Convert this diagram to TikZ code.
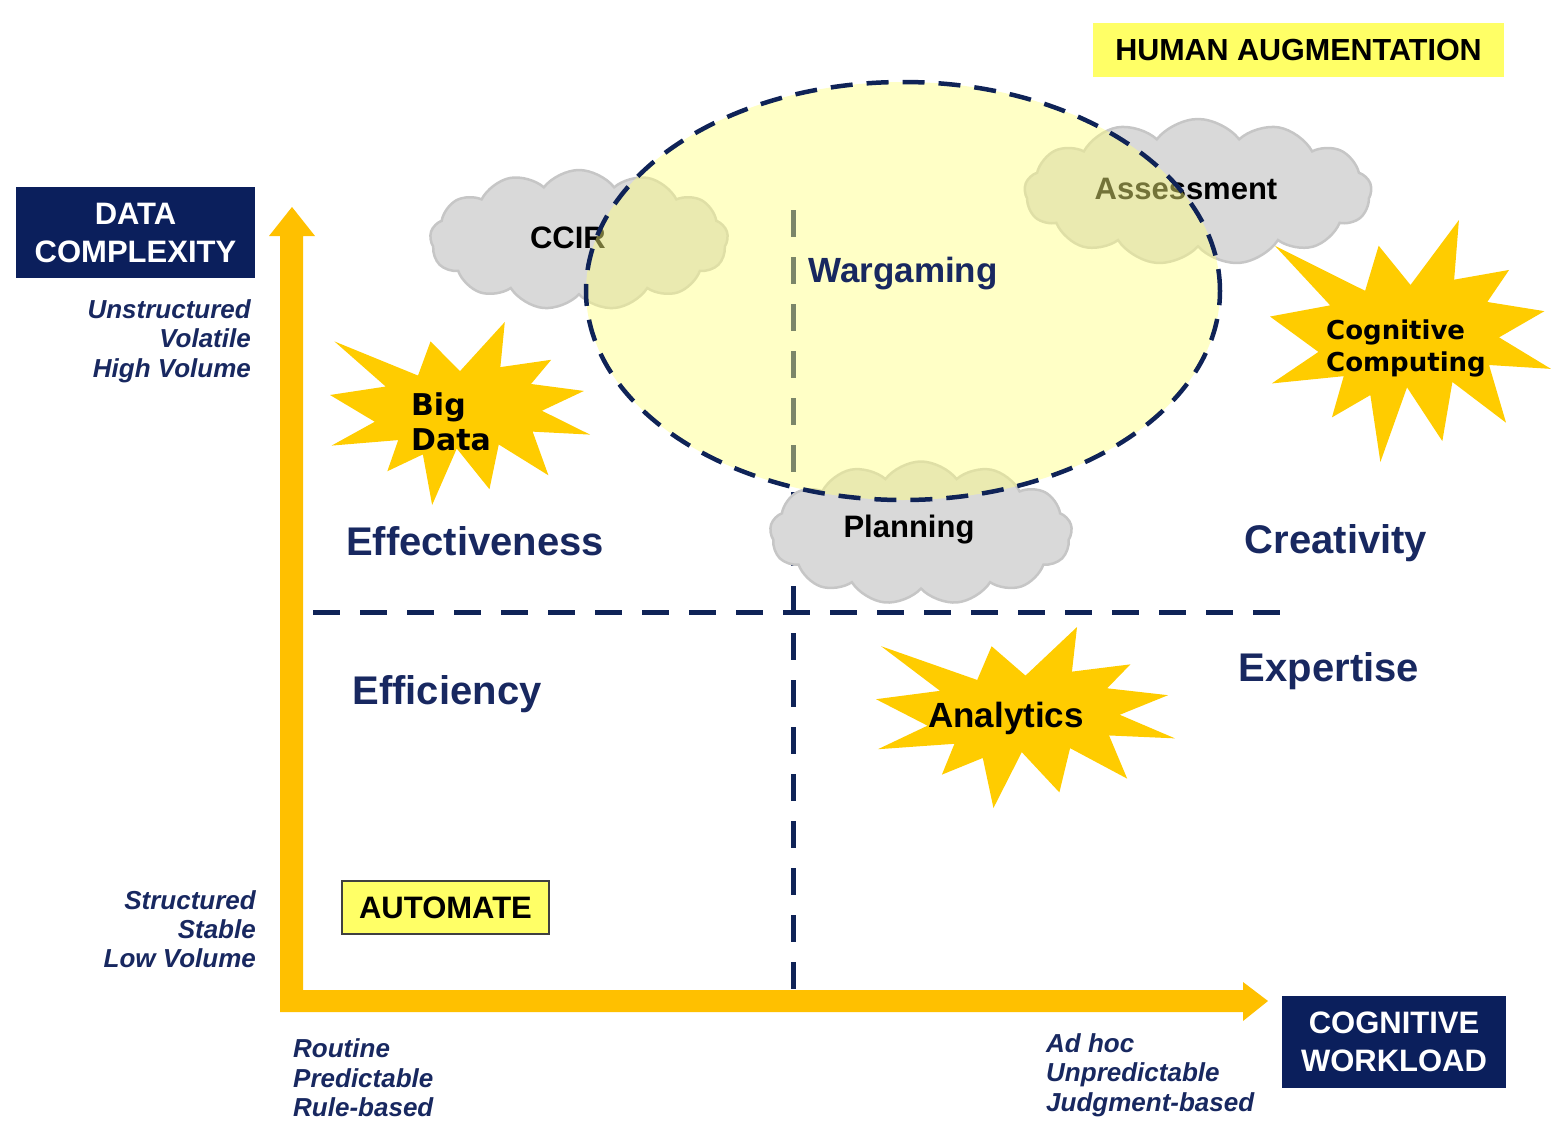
\documentclass[tikz,border=0pt]{standalone}
\usepackage{fontspec}
\setmainfont{Liberation Sans}
\newfontfamily\verd{DejaVu Sans}
\usetikzlibrary{shapes.symbols,shapes.geometric}
\definecolor{navy}{HTML}{0B1F5C}
\definecolor{navytext}{HTML}{182860}
\definecolor{dashnavy}{HTML}{0F2357}
\definecolor{axisyellow}{HTML}{FFC000}
\definecolor{burst}{HTML}{FFCC00}
\definecolor{cloudgray}{HTML}{D9D9D9}
\definecolor{cloudedge}{HTML}{C6C6C6}
\definecolor{lemon}{HTML}{FFFF66}
\definecolor{paleyellow}{HTML}{FFFF80}
% "Explosion" outline in a 216 x 216 box (y downwards)
\newcommand\explpath{(108,58) -- (83.52,22.95) -- (73.12,63.2) -- (3.7,22.95) -- (46.27,76.17) -- (0,86.15) -- (37.22,117.75) -- (1.35,145.87) -- (56.67,139.37) -- (47.62,176.17) -- (77.15,156.27) -- (84.85,216) -- (105.32,149.35) -- (132.47,197.37) -- (140.2,144.57) -- (181.45,180.95) -- (168.37,129.42) -- (216,132.9) -- (176.07,104.75) -- (210.97,81.37) -- (167.02,73.15) -- (183.8,44.57) -- (141.55,53.25) -- (145.22,0) -- cycle}
\begin{document}
\begin{tikzpicture}[x=1pt,y=-1pt,
  navybox/.style={fill=navy, text=white, font=\fontsize{31}{38}\selectfont\bfseries, align=center, inner sep=0pt},
  lemonbox/.style={fill=lemon, text=black, font=\fontsize{31}{37}\selectfont\bfseries, inner sep=0pt},
  axislabel/.style={text=navytext, font=\fontsize{26}{29.3}\selectfont\bfseries\itshape, inner sep=0pt},
  bigword/.style={text=navytext, font=\fontsize{40}{46}\selectfont\bfseries, inner sep=0pt},
  cloudword/.style={text=black, font=\fontsize{31}{36}\selectfont\bfseries, inner sep=0pt},
  puff/.style={cloud, cloud puffs=13, cloud puff arc=105, cloud ignores aspect, fill=cloudgray, draw=cloudedge, line width=2.5pt, inner sep=0pt},
  burstfill/.style={fill=burst, draw=none},
  quadline/.style={draw=dashnavy, line width=5pt, dash pattern=on 27pt off 20pt},
]
\useasboundingbox (0,0) rectangle (1551,1120);

% quadrant dashed lines
\coordinate (vtop) at (793,210);
\coordinate (vbot) at (793,1002);
\coordinate (hleft) at (313,612);
\coordinate (hright) at (1280,612);
\draw[quadline] (vtop) -- (vbot);
\draw[quadline] (hleft) -- (hright);

% axes (L-shaped arrow)
\fill[axisyellow] (280,1012) -- (280,236) -- (269,236) -- (292,207) -- (315,236) -- (303,236)
  -- (303,990) -- (1243,990) -- (1243,982) -- (1268,1001) -- (1243,1021) -- (1243,1012) -- cycle;

% clouds
\node[puff, minimum width=298pt, minimum height=140pt] (ccirc) at (579,240) {};
\node[cloudword] (ccir) at (568,238) {CCIR};
\node[puff, minimum width=347pt, minimum height=146pt] (assc) at (1198,192) {};
\node[cloudword] (assess) at (1186,189) {Assessment};
\node[puff, minimum width=302pt, minimum height=143pt] (planc) at (921,533) {};
\node[cloudword] (plan) at (909,530) {Planning};

% starbursts
\fill[burstfill, shift={(330,322)}, xscale=260/216, yscale=183/216] \explpath;
\node[text=black, font=\verd\fontsize{30}{35}\selectfont\bfseries, align=left, inner sep=0pt] (bigdata) at (451,422) {Big\\Data};
\fill[burstfill, shift={(1270,220)}, xscale=281/216, yscale=242/216] \explpath;
\node[text=black, font=\verd\fontsize{26}{32}\selectfont\bfseries, align=left, inner sep=0pt] (cogcomp) at (1406,348) {Cognitive\\Computing};
\fill[burstfill, shift={(876,627)}, xscale=299/216, yscale=181/216] \explpath;
\node[text=black, font=\fontsize{35}{40}\selectfont\bfseries, inner sep=0pt] (analytics) at (1006,718) {Analytics};

% human augmentation ellipse
\node[ellipse, minimum width=634pt, minimum height=418pt, fill=paleyellow, fill opacity=0.45, draw=dashnavy, line width=4.5pt, dash pattern=on 22pt off 14pt, inner sep=0pt] (hum) at (903,291) {};
\node[bigword, font=\fontsize{35}{40}\selectfont\bfseries] (war) at (903,274) {Wargaming};

% quadrant words
\node[bigword] (eff) at (475,541) {Effectiveness};
\node[bigword] (cre) at (1336,543) {Creativity};
\node[bigword] (effi) at (447,694) {Efficiency};
\node[bigword] (exp) at (1329,671) {Expertise};

% boxes
\node[navybox, minimum width=239pt, minimum height=91pt] (datac) at (135.5,232.5) {DATA\\COMPLEXITY};
\node[navybox, minimum width=224pt, minimum height=92pt] (cogw) at (1394,1042) {COGNITIVE\\WORKLOAD};
\node[lemonbox, minimum width=411pt, minimum height=54pt, font=\fontsize{30.5}{36}\selectfont\bfseries] (humaug) at (1298.5,50) {HUMAN AUGMENTATION};
\node[lemonbox, draw=black!75, line width=1.5pt, minimum width=207pt, minimum height=53pt] (auto) at (445.5,907.5) {AUTOMATE};

% axis labels
\node[axislabel, anchor=east, align=right] (hi) at (251,341) {Unstructured\\Volatile\\High Volume};
\node[axislabel, anchor=east, align=right] (lo) at (256,929) {Structured\\Stable\\Low Volume};
\node[axislabel, anchor=south west, align=left] (rout) at (293,1117) {Routine\\Predictable\\Rule-based};
\node[axislabel, anchor=west, align=left] (adhoc) at (1046,1075) {Ad hoc\\Unpredictable\\Judgment-based};
\end{tikzpicture}
\end{document}
